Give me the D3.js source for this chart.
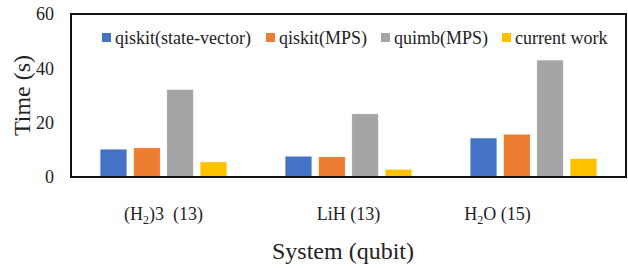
<!DOCTYPE html>
<html lang="en">
<head>
<meta charset="utf-8">
<script src="https://d3js.org/d3.v7.min.js"></script>
<style>
  body { margin: 0; background: #fff; }
  text { font-family: "Liberation Serif", "Times New Roman", serif; fill: #222; }
</style>
</head>
<body>
<svg width="628" height="268"></svg>
<script>
// data
var systems = ["(H2)3  (13)", "LiH (13)", "H2O (15)"];
// tick labels as pieces: [text, isSubscript]
var systemLabels = [
  [["(H", 0], ["2", 1], [")3\u00a0\u00a0(13)", 0]],
  [["LiH (13)", 0]],
  [["H", 0], ["2", 1], ["O (15)" + "\u00a0".repeat(16), 0]]
];
var seriesNames = ["qiskit(state-vector)", "qiskit(MPS)", "quimb(MPS)", "current work"];
var seriesColors = ["#4472C4", "#ED7D31", "#A5A5A5", "#FFC000"];
var stateVector = [10.3, 7.7, 14.4];
var qiskitMPS   = [10.8, 7.5, 15.8];
var quimbMPS    = [32.3, 23.3, 43.1];
var currentWork = [5.6, 2.9, 6.9];
var yTicks = [0, 20, 40, 60];

var seriesValues = [stateVector, qiskitMPS, quimbMPS, currentWork];
var rows = [];
systems.forEach(function(s, i) {
  seriesNames.forEach(function(n, j) {
    rows.push({ system: s, series: n, value: seriesValues[j][i] });
  });
});

var svg = d3.select("svg");
var m = { left: 71, right: 626, top: 14, bottom: 177 };

var x0 = d3.scaleBand().domain(systems).range([m.left, m.right]).padding(0);
var inner = 127;
var x1 = d3.scaleBand().domain(seriesNames)
    .range([(x0.bandwidth() - inner) / 2, (x0.bandwidth() + inner) / 2])
    .paddingInner(0.19).paddingOuter(0);
var y = d3.scaleLinear().domain([0, 60]).range([m.bottom, m.top]);
var color = d3.scaleOrdinal().domain(seriesNames).range(seriesColors);

// bars
svg.append("g").selectAll("rect")
  .data(rows)
  .enter().append("rect")
    .attr("x", function(d) { return x0(d.system) + x1(d.series); })
    .attr("y", function(d) { return y(d.value); })
    .attr("width", x1.bandwidth())
    .attr("height", function(d) { return y(0) - y(d.value); })
    .attr("fill", function(d) { return color(d.series); })
    .attr("stroke", "#fff")
    .attr("stroke-width", 0.8);

// frame
svg.append("rect")
  .attr("x", m.left).attr("y", m.top)
  .attr("width", m.right - m.left).attr("height", m.bottom - m.top)
  .attr("fill", "none").attr("stroke", "#111").attr("stroke-width", 2);

// y axis labels
var yAxis = svg.append("g")
  .attr("transform", "translate(" + m.left + ",0)")
  .call(d3.axisLeft(y).tickValues(yTicks).tickSize(0).tickPadding(17));
yAxis.select(".domain").remove();
yAxis.selectAll("text")
  .style("font-family", "Liberation Serif")
  .style("font-size", "18px")
  .attr("fill", "#222");

// x axis labels
var xAxis = svg.append("g")
  .attr("transform", "translate(0," + m.bottom + ")")
  .call(d3.axisBottom(x0).tickSize(0).tickFormat(""));
xAxis.select(".domain").remove();
xAxis.selectAll(".tick").each(function(d, i) {
  var t = d3.select(this).append("text")
    .attr("y", 43)
    .attr("text-anchor", "middle")
    .style("font-size", "18px")
    .style("white-space", "pre")
    .attr("fill", "#222");
  systemLabels[i].forEach(function(p) {
    var ts = t.append("tspan").text(p[0]);
    if (p[1]) ts.attr("dy", 4).style("font-size", "12px");
    else if (t.selectAll("tspan").size() > 1) ts.attr("dy", -4);
  });
});

// axis titles
svg.append("text")
  .attr("transform", "translate(30," + ((m.top + m.bottom) / 2) + ") rotate(-90)")
  .attr("text-anchor", "middle")
  .style("font-size", "24px")
  .text("Time (s)");

svg.append("text")
  .attr("x", 343).attr("y", 259)
  .attr("text-anchor", "middle")
  .style("font-size", "24px")
  .text("System (qubit)");

// legend
var legendX = [102, 266, 381, 502];
var legend = svg.append("g").selectAll("g")
  .data(seriesNames)
  .enter().append("g")
    .attr("transform", function(d, i) { return "translate(" + legendX[i] + ",38)"; });
legend.append("rect")
  .attr("x", 0).attr("y", -5).attr("width", 9).attr("height", 9)
  .attr("fill", function(d) { return color(d); });
legend.append("text")
  .attr("x", 13).attr("y", 6)
  .style("font-size", "18px")
  .text(function(d) { return d; });
</script>
</body>
</html>
